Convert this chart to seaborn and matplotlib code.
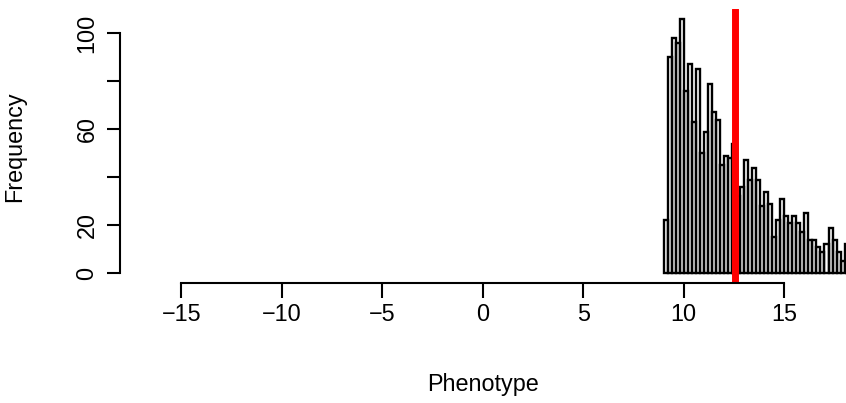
import numpy as np
import pandas as pd
import seaborn as sns
import matplotlib.pyplot as plt

# histogram counts, bins of 0.2 starting at 9.0
bin_start = 9.0
bin_width = 0.2
counts = [22, 90, 98, 96, 106, 76, 87, 63, 85, 50,
          59, 79, 67, 64, 45, 49, 48, 54, 32, 36,
          47, 39, 44, 39, 28, 34, 29, 15, 22, 31,
          24, 21, 24, 21, 17, 25, 14, 14, 11, 9,
          12, 19, 14, 9, 5, 12]
mean_value = 12.55

x_ticks = [-15, -10, -5, 0, 5, 10, 15]
y_ticks = [0, 20, 40, 60, 80, 100]
y_ticklabels = ['0', '20', '', '60', '', '100']

sns.set_style('white')
plt.rcParams['font.family'] = ['Liberation Sans', 'DejaVu Sans']
plt.rcParams['text.color'] = 'black'
plt.rcParams['axes.labelcolor'] = 'black'
plt.rcParams['xtick.color'] = 'black'
plt.rcParams['ytick.color'] = 'black'

edges = bin_start + bin_width * np.arange(len(counts) + 1)
df = pd.DataFrame({'Phenotype': edges[:-1] + bin_width / 2, 'n': counts})

fig = plt.figure(figsize=(8.46, 4.03), dpi=100)
ax = fig.add_axes([120 / 846, 1 - 283.3 / 403, 1 - 120 / 846, (283.3 - 9.3) / 403])

sns.histplot(data=df, x='Phenotype', weights='n', bins=edges.tolist(), fill=False,
             color='black', linewidth=1.7, ax=ax)
ax.axvline(mean_value, color='red', linewidth=5)

ax.set_xlim(-18.05, 18.07)
ax.set_ylim(-4.17, 110)

for s in ['top', 'right']:
    ax.spines[s].set_visible(False)
ax.spines['bottom'].set_bounds(-15, 15)
ax.spines['left'].set_bounds(0, 100)
for s in ['bottom', 'left']:
    ax.spines[s].set_linewidth(1.5)
    ax.spines[s].set_color('black')

ax.set_xticks(x_ticks)
ax.set_yticks(y_ticks)
ax.set_yticklabels(y_ticklabels, rotation=90, va='center')
ax.tick_params(axis='x', length=11, width=1.5, pad=3, labelsize=16.8, colors='black')
ax.tick_params(axis='y', length=9.5, width=1.5, pad=6, labelsize=16.8, colors='black')
ax.tick_params(bottom=True, left=True)

ax.set_xlabel('Phenotype', fontsize=16.8, color='black')
ax.set_ylabel('Frequency', fontsize=16.8, color='black')
ax.xaxis.set_label_coords(0.5, (283.3 - 385) / 274)
ax.xaxis.label.set_va('center')
ax.yaxis.set_label_coords((15 - 120) / 726, 0.5)
ax.yaxis.label.set_va('center')

fig.savefig('out.png', dpi=100)
